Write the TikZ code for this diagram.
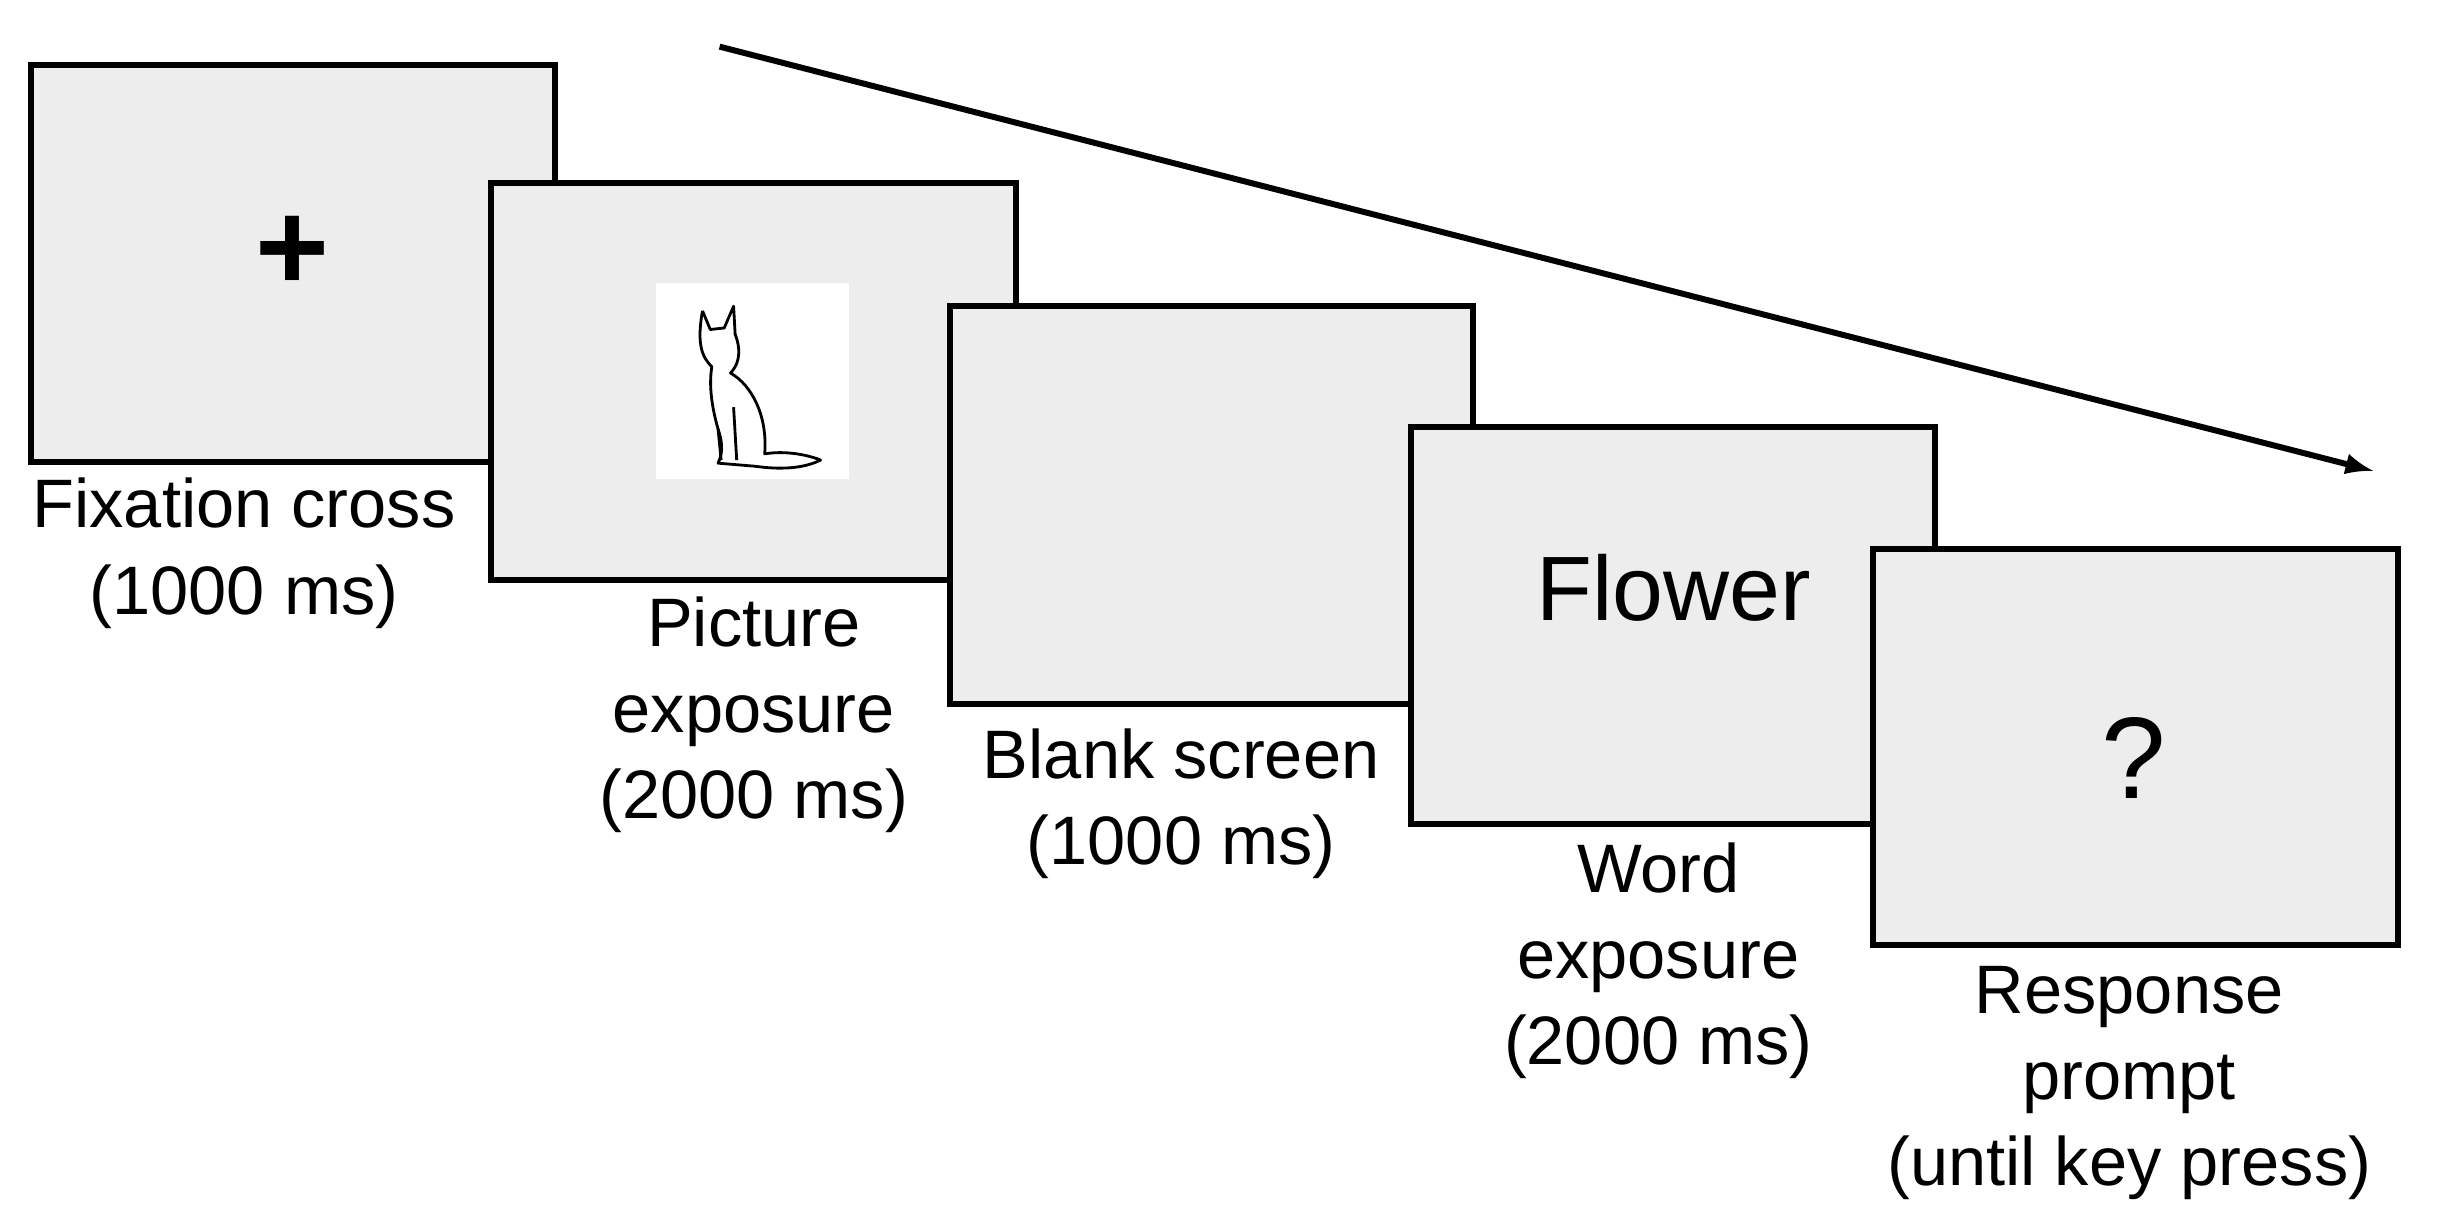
\documentclass[tikz,border=0pt]{standalone}
\usepackage{fontspec}
\setmainfont{Liberation Sans}
\begin{document}
\begin{tikzpicture}[x=0.01554cm,y=-0.01554cm,
  screen/.style={draw=black, line width=1.7pt, fill=black!7},
  lbl/.style={align=center, font=\fontsize{19.5}{24.5}\selectfont}]
\useasboundingbox (0,0) rectangle (1568,775);
\fill[white] (0,0) rectangle (1568,775);
% screens
\draw[screen] (20,42) rectangle (357,297);
\draw[screen] (316,118) rectangle (654,373);
\draw[screen] (611,197) rectangle (948,453);
\draw[screen] (908,275) rectangle (1245,530);
\draw[screen] (1205,353) rectangle (1543,608);
% screen contents
\node[font=\fontsize{36}{36}\selectfont\bfseries] (plus) at (188,163) {+};
\fill[white] (422,182) rectangle (546,308);
\draw[line width=0.8pt, line join=round]
  (452,200) -- (457,212) -- (466,211) -- (472,197) -- (473,215)
  .. controls (478,228) and (474,236) .. (470,240)
  .. controls (484,248) and (494,268) .. (492,292)
  .. controls (504,290) and (518,292) .. (528,296)
  .. controls (516,302) and (500,302) .. (486,300)
  -- (462,298) .. controls (466,290) and (464,282) .. (462,276)
  .. controls (458,262) and (456,248) .. (458,236)
  .. controls (452,230) and (448,222) .. (452,200);
\draw[line width=0.8pt] (462,276) -- (464,296) (472,262) -- (474,296);
\node[font=\fontsize{26}{26}\selectfont] (flower) at (1077,378) {Flower};
\node[font=\fontsize{33}{33}\selectfont] (quest) at (1373,488) {?};
% labels
\node[lbl] (l1) at (157,356) {Fixation cross\\(1000 ms)};
\node[lbl] (l2) at (485,460) {Picture\\exposure\\(2000 ms)};
\node[lbl] (l3) at (760,517) {Blank screen\\(1000 ms)};
\node[lbl] (l4) at (1067,618) {Word\\exposure\\(2000 ms)};
\node[lbl] (l5) at (1370,697) {Response\\prompt\\(until key press)};
% time arrow
\coordinate (ta) at (463,30);
\coordinate (tb) at (1527,303);
\draw[line width=1.7pt, -latex] (ta) -- (tb);
\end{tikzpicture}
\end{document}
